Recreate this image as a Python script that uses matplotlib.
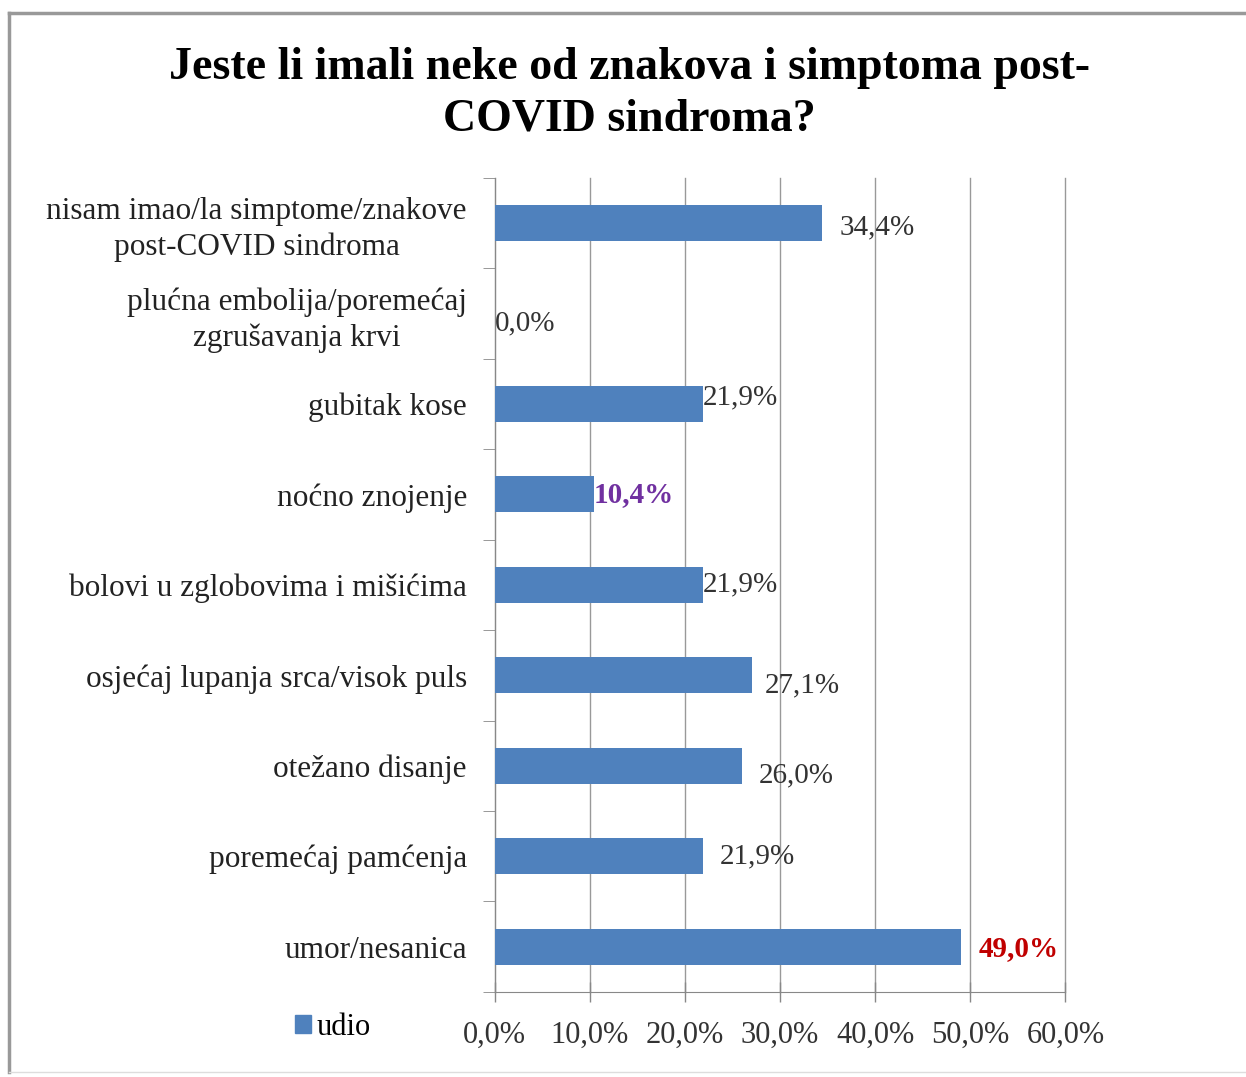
import matplotlib.pyplot as plt
from matplotlib.lines import Line2D
from matplotlib.patches import Patch

categories = ['nisam imao/la simptome/znakove\npost-COVID sindroma',
              'plućna embolija/poremećaj\nzgrušavanja krvi',
              'gubitak kose',
              'noćno znojenje',
              'bolovi u zglobovima i mišićima',
              'osjećaj lupanja srca/visok puls',
              'otežano disanje',
              'poremećaj pamćenja',
              'umor/nesanica']
values = [34.4, 0.0, 21.9, 10.4, 21.9, 27.1, 26.0, 21.9, 49.0]
ticks = [0, 10, 20, 30, 40, 50, 60]

# label placement (offset in points from bar end) and style, as in the original
lab_dx = [13, 0, 0, 0, 0, 9, 12, 12, 13]
lab_dy = [-3, -7, 5, 0, 0, -7, -7, 0, -1]
lab_color = ['#333333'] * 9
lab_color[3] = '#7030A0'
lab_color[8] = '#C00000'
lab_weight = ['normal'] * 9
lab_weight[3] = 'bold'
lab_weight[8] = 'bold'

plt.rcParams['font.family'] = 'Liberation Serif'

fig = plt.figure(figsize=(12.46, 10.77), dpi=100)
ax = fig.add_axes([0.397, 0.079, 0.458, 0.756])

y = list(range(len(categories)))
ax.barh(y, values, height=0.4, color='#4F81BD', zorder=3)
ax.set_ylim(len(categories) - 0.5, -0.5)
ax.set_xlim(0, 60)

ax.set_xticks(ticks)
ax.xaxis.set_major_formatter(plt.FuncFormatter(lambda v, p: ('%.1f%%' % v).replace('.', ',')))
ax.tick_params(axis='x', direction='inout', length=14, width=1, color='#888888',
               labelsize=22, labelcolor='#333333', pad=14)
ax.grid(axis='x', color='#999999', linewidth=1, zorder=0)
for gl in ax.get_xgridlines():
    gl.set_clip_on(False)

ax.set_yticks(y)
ax.set_yticklabels(categories, fontsize=22.5, color='#222222', linespacing=1.3)
ax.set_yticks([i + 0.5 for i in range(-1, len(categories))], minor=True)
ax.tick_params(axis='y', which='major', length=0, pad=20)
ax.tick_params(axis='y', which='minor', length=9, color='#888888')
for lbl in ax.get_yticklabels():
    lbl.set_multialignment('center')

for s in ['top', 'right']:
    ax.spines[s].set_visible(False)
ax.spines['left'].set_color('#888888')
ax.spines['bottom'].set_color('#888888')

for i, v in enumerate(values):
    ax.annotate(('%.1f%%' % v).replace('.', ','), (v, i), xytext=(lab_dx[i], lab_dy[i]),
                textcoords='offset points', va='center', ha='left', fontsize=21,
                color=lab_color[i], fontweight=lab_weight[i], zorder=4)

fig.text(0.505, 0.913, 'Jeste li imali neke od znakova i simptoma post-\nCOVID sindroma?',
         ha='center', va='center', fontsize=33, fontweight='bold', linespacing=1.28)

fig.legend(handles=[Patch(color='#4F81BD', label='udio')], loc='center left',
           bbox_to_anchor=(0.215, 0.046), frameon=False, fontsize=22,
           handlelength=0.5, handleheight=0.5, handletextpad=0.2)

# outer chart frame
fig.add_artist(Line2D([0.007, 1.0], [0.988, 0.988], color='#999999', linewidth=2.5))
fig.add_artist(Line2D([0.007, 0.007], [0.005, 0.988], color='#999999', linewidth=2.5))
fig.add_artist(Line2D([0.007, 1.0], [0.005, 0.005], color='#dddddd', linewidth=1))

fig.savefig('out.png', dpi=100)
